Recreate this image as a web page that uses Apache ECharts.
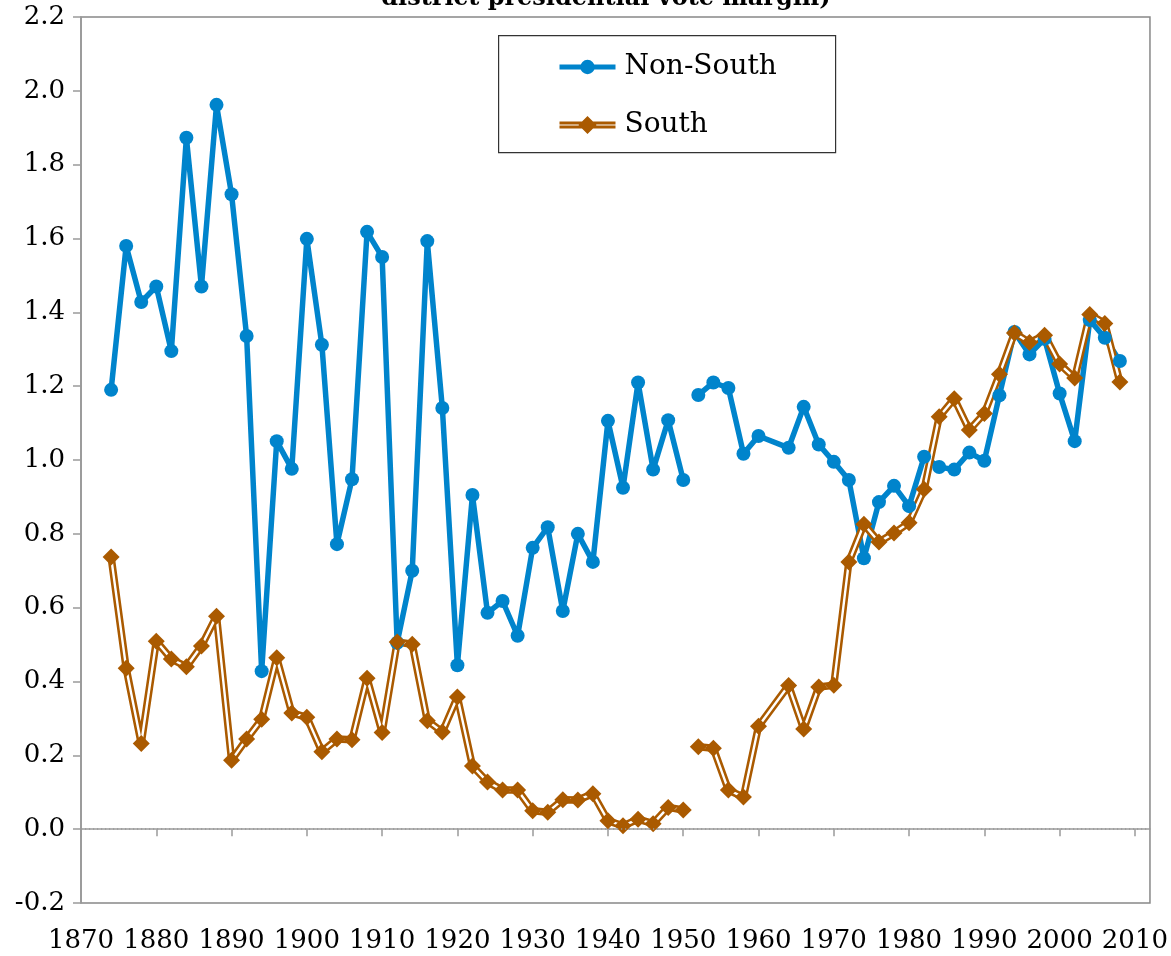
<!DOCTYPE html>
<html>
<head>
<meta charset="utf-8">
<title>Non-South vs South</title>
<script src="https://cdn.jsdelivr.net/npm/echarts@6.0.0/dist/echarts.min.js"></script>
<style>
  html, body { margin: 0; padding: 0; background: #fff; }
  #main { width: 1171px; height: 956px; }
</style>
</head>
<body>
<div id="main"></div>
<script>
// election years (1951 = break in the lines, 1962 not in the data)
const years = [
  1874, 1876, 1878, 1880, 1882, 1884, 1886, 1888, 1890, 1892,
  1894, 1896, 1898, 1900, 1902, 1904, 1906, 1908, 1910, 1912,
  1914, 1916, 1918, 1920, 1922, 1924, 1926, 1928, 1930, 1932,
  1934, 1936, 1938, 1940, 1942, 1944, 1946, 1948, 1950, 1951,
  1952, 1954, 1956, 1958, 1960, 1964, 1966, 1968, 1970, 1972,
  1974, 1976, 1978, 1980, 1982, 1984, 1986, 1988, 1990, 1992,
  1994, 1996, 1998, 2000, 2002, 2004, 2006, 2008
]
const nonSouth = [
  1.19, 1.58, 1.428, 1.47, 1.295, 1.873, 1.47, 1.962, 1.72, 1.336,
  0.428, 1.051, 0.976, 1.599, 1.312, 0.772, 0.948, 1.618, 1.55, 0.505,
  0.70, 1.593, 1.141, 0.444, 0.905, 0.586, 0.618, 0.524, 0.762, 0.818,
  0.591, 0.80, 0.724, 1.106, 0.925, 1.21, 0.974, 1.108, 0.946, null,
  1.176, 1.21, 1.195, 1.017, 1.065, 1.033, 1.144, 1.042, 0.995, 0.946,
  0.734, 0.886, 0.93, 0.875, 1.009, 0.981, 0.974, 1.02, 0.998, 1.175,
  1.347, 1.286, 1.328, 1.18, 1.051, 1.379, 1.331, 1.268
]
const south = [
  0.737, 0.436, 0.232, 0.509, 0.461, 0.44, 0.496, 0.577, 0.187, 0.244,
  0.298, 0.464, 0.315, 0.303, 0.21, 0.244, 0.242, 0.409, 0.262, 0.507,
  0.501, 0.294, 0.263, 0.358, 0.171, 0.128, 0.106, 0.106, 0.05, 0.046,
  0.08, 0.079, 0.096, 0.023, 0.009, 0.027, 0.015, 0.059, 0.052, null,
  0.223, 0.219, 0.106, 0.087, 0.279, 0.389, 0.271, 0.385, 0.39, 0.724,
  0.826, 0.778, 0.802, 0.83, 0.921, 1.117, 1.166, 1.081, 1.126, 1.232,
  1.344, 1.318, 1.338, 1.26, 1.222, 1.394, 1.37, 1.211
]

const blue = '#0084CC'
const brown = '#AA5A00'
const font = 'DejaVu Serif'

function pairs(vals) {
  return years.map((y, i) => [y, vals[i] == null ? '-' : vals[i]])
}

const myChart = echarts.init(document.getElementById('main'))
myChart.setOption({
  backgroundColor: '#fff',
  animation: false,
  graphic: [
    {
      // only the bottom of the title's last line is inside the picture
      type: 'text', x: 606, y: -13,
      style: {
        text: 'district presidential vote margin)',
        font: 'bold 24px "DejaVu Serif"', fill: '#000', align: 'center', textAlign: 'center'
      }
    },
    {
      type: 'rect', left: 498, top: 35, z: 0,
      shape: { width: 337, height: 117 },
      style: { fill: '#fff', stroke: '#333', lineWidth: 1.2 }
    }
  ],
  legend: {
    orient: 'vertical',
    left: 557, top: 52,
    padding: 0,
    itemWidth: 56, itemHeight: 18, itemGap: 28,
    z: 10,
    textStyle: { fontFamily: font, fontSize: 28, color: '#000', lineHeight: 30, padding: [0, 0, 0, 4] },
    data: [
      { name: 'Non-South', lineStyle: { width: 5 } },
      { name: 'South', icon: 'path://M0,5.5h56v3h-56z M0,9.5h56v3h-56z M28,0L37,9L28,18L19,9z' }
    ]
  },
  grid: {
    left: 81, top: 17, right: 19, bottom: 53,
    show: true, borderColor: '#888', borderWidth: 1.5, backgroundColor: '#fff'
  },
  xAxis: {
    type: 'value', min: 1870, max: 2012, interval: 10,
    axisLine: { lineStyle: { color: '#9a9a9a', width: 1.5 } },
    axisTick: { inside: false, length: 7, lineStyle: { color: '#9a9a9a', width: 1.5 } },
    splitLine: { show: false },
    axisLabel: {
      fontFamily: font, fontSize: 26, color: '#000', margin: 25,
      showMaxLabel: false,
      formatter: v => (v % 10 === 0 ? String(v) : '')
    }
  },
  yAxis: {
    type: 'value', min: -0.2, max: 2.2, interval: 0.2,
    axisLine: { show: true, lineStyle: { color: '#9a9a9a', width: 1.5 } },
    axisTick: { show: true, inside: false, length: 8, lineStyle: { color: '#9a9a9a', width: 1.5 } },
    splitLine: { show: false },
    axisLabel: {
      fontFamily: font, fontSize: 26, color: '#000', margin: 16,
      formatter: v => v.toFixed(1)
    }
  },
  series: [
    {
      name: 'Non-South', type: 'line',
      data: pairs(nonSouth),
      symbol: 'circle', symbolSize: 14,
      itemStyle: { color: blue },
      lineStyle: { color: blue, width: 5.5 },
      markLine: {
        silent: true, symbol: 'none',
        label: { show: false },
        lineStyle: { color: '#999', type: [1.2, 2.8], width: 1.5 },
        data: [{ yAxis: 0 }]
      }
    },
    {
      name: 'South outline', type: 'line',
      data: pairs(south),
      showSymbol: false,
      itemStyle: { color: brown },
      lineStyle: { color: brown, width: 7.5 }
    },
    {
      name: 'South inner', type: 'line',
      data: pairs(south),
      showSymbol: false,
      itemStyle: { color: '#fff' },
      lineStyle: { color: '#fff', width: 2.4 }
    },
    {
      name: 'South', type: 'line',
      data: pairs(south),
      symbol: 'diamond', symbolSize: 17,
      itemStyle: { color: brown },
      lineStyle: { color: brown, width: 0, opacity: 0 }
    }
  ]
})
</script>
</body>
</html>
